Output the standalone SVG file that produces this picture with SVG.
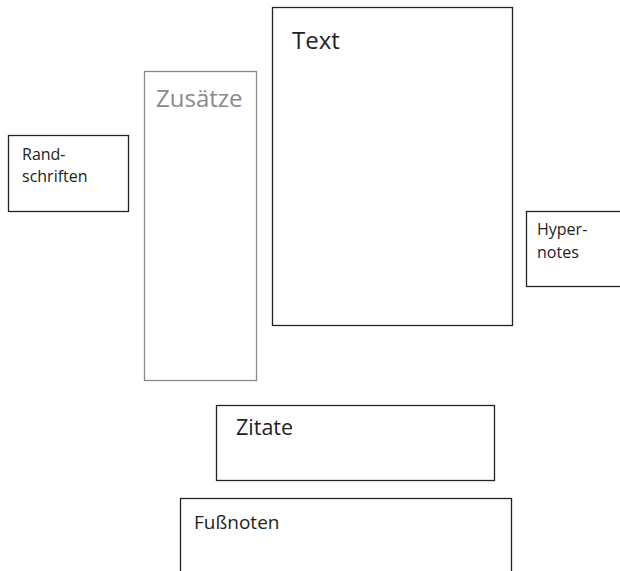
<svg xmlns="http://www.w3.org/2000/svg" width="620" height="571" viewBox="0 0 620 571">
<style>
.box{fill:#fff;stroke:#222;stroke-width:1.3}
.grey{fill:#fff;stroke:#8a8a8a;stroke-width:1.3}
text{font-family:"Open Sans","Liberation Sans",sans-serif;fill:#222}
.lab-grey{fill:#8a8a8a}
</style>
<rect width="620" height="571" fill="#fff"/>
<g id="connectors"></g>
<g id="randschriften">
<rect class="box" x="8.5" y="135.5" width="120" height="76"/>
<text x="22" y="160" font-size="16">Rand-</text>
<text x="22" y="182" font-size="16">schriften</text>
</g>
<g id="zusaetze">
<rect class="grey" x="144.5" y="71.5" width="112" height="309"/>
<text class="lab-grey" x="156" y="107" font-size="24">Zusätze</text>
</g>
<g id="text">
<rect class="box" x="272.5" y="7.5" width="240" height="318"/>
<text x="292" y="49" font-size="24">Text</text>
</g>
<g id="hypernotes">
<rect class="box" x="526.5" y="211.5" width="100" height="75"/>
<text x="537" y="235" font-size="16">Hyper-</text>
<text x="537" y="258" font-size="16">notes</text>
</g>
<g id="zitate">
<rect class="box" x="216.5" y="405.5" width="278" height="75"/>
<text x="236" y="435" font-size="21.5">Zitate</text>
</g>
<g id="fussnoten">
<rect class="box" x="180.5" y="498.5" width="331" height="80"/>
<text x="194" y="529" font-size="19">Fußnoten</text>
</g>
</svg>
